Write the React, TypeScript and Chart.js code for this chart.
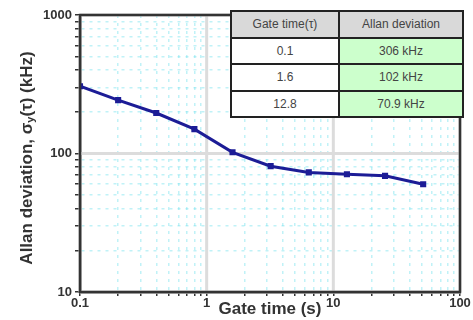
import React, { useEffect, useRef } from "react";
import { Chart, registerables } from "chart.js";

Chart.register(...registerables);

const gateTimes = [0.1, 0.2, 0.4, 0.8, 1.6, 3.2, 6.4, 12.8, 25.6, 51.2];
const allanDev = [306, 243, 196, 150, 102, 81, 73, 70.9, 69, 60];

const xDecades = [0.1, 1, 10, 100];
const yDecades = [10, 100, 1000];

const tableHeader = ["Gate time(τ)", "Allan deviation"];
const tableGate = ["0.1", "1.6", "12.8"];
const tableDev = ["306 kHz", "102 kHz", "70.9 kHz"];

function logTicks(min: number, max: number) {
  const out: number[] = [];
  for (let d = min; d < max * 0.999; d *= 10) {
    for (let k = 1; k <= 9; k++) out.push(+(d * k).toPrecision(6));
  }
  out.push(max);
  return out;
}

const isDecade = (v: number, list: number[]) => list.some((d) => Math.abs(d - v) / d < 1e-6);

const majorGridPlugin = {
  id: "majorGrid",
  beforeDatasetsDraw(chart: any) {
    const { ctx, chartArea: a, scales } = chart;
    ctx.save();
    ctx.strokeStyle = "#dcdcdc";
    ctx.lineWidth = 3;
    for (const v of xDecades) {
      const px = scales.x.getPixelForValue(v);
      ctx.beginPath();
      ctx.moveTo(px, a.top);
      ctx.lineTo(px, a.bottom);
      ctx.stroke();
    }
    for (const v of yDecades) {
      const py = scales.y.getPixelForValue(v);
      ctx.beginPath();
      ctx.moveTo(a.left, py);
      ctx.lineTo(a.right, py);
      ctx.stroke();
    }
    ctx.restore();
  },
};

const framePlugin = {
  id: "frame",
  afterDraw(chart: any) {
    const { ctx, chartArea: a } = chart;
    ctx.save();
    ctx.strokeStyle = "#333";
    ctx.lineWidth = 2.5;
    ctx.strokeRect(a.left, a.top, a.right - a.left, a.bottom - a.top);
    // y-axis title with subscript
    ctx.translate(27, 158);
    ctx.rotate(-Math.PI / 2);
    ctx.fillStyle = "#333";
    ctx.textBaseline = "middle";
    const big = "bold 17px 'Liberation Sans', Arial, sans-serif";
    const small = "bold 11px 'Liberation Sans', Arial, sans-serif";
    const parts: [string, string, number][] = [
      ["Allan deviation, σ", big, 0],
      ["y", small, 4],
      ["(τ) (kHz)", big, 0],
    ];
    let total = 0;
    for (const [t, f] of parts) {
      ctx.font = f;
      total += ctx.measureText(t).width;
    }
    let x = -total / 2;
    ctx.textAlign = "left";
    for (const [t, f, dy] of parts) {
      ctx.font = f;
      ctx.fillText(t, x, dy);
      x += ctx.measureText(t).width;
    }
    ctx.restore();
  },
};

export default function App() {
  const ref = useRef<HTMLCanvasElement | null>(null);
  useEffect(() => {
    if (!ref.current) return;
    const tickFont = { family: "'Liberation Sans', Arial, sans-serif", size: 13, weight: "bold" as const };
    const minorColor = "rgba(130,230,240,0.5)";
    const chart = new Chart(ref.current, {
      type: "line",
      data: {
        datasets: [
          {
            data: gateTimes.map((t, i) => ({ x: t, y: allanDev[i] })),
            borderColor: "#1c1c96",
            backgroundColor: "#1c1c96",
            borderWidth: 3,
            pointStyle: "rect",
            pointRadius: 2.2,
            tension: 0,
          },
        ],
      },
      plugins: [majorGridPlugin, framePlugin],
      options: {
        responsive: false,
        animation: false,
        layout: { padding: { top: 15, right: 13, left: 0, bottom: 0 } },
        plugins: { legend: { display: false }, tooltip: { enabled: false } },
        scales: {
          x: {
            type: "logarithmic",
            min: 0.1,
            max: 100,
            afterBuildTicks: (s: any) => {
              s.ticks = logTicks(0.1, 100).map((v) => ({ value: v }));
            },
            afterFit: (s: any) => {
              s.height = 28;
            },
            ticks: {
              autoSkip: false,
              maxRotation: 0,
              color: "#333",
              font: tickFont,
              padding: 0,
              callback: (v: any) => (isDecade(Number(v), xDecades) ? String(v) : ""),
            },
            grid: {
              color: (c: any) => (isDecade(c.tick?.value, xDecades) ? "rgba(0,0,0,0)" : minorColor),
              lineWidth: 1.5,
              tickColor: "#333",
              tickLength: 4,
            },
            border: { display: true, color: "#333", width: 2.5, dash: [3, 5] },
            title: {
              display: true,
              text: "Gate time (s)",
              color: "#333",
              font: { family: "'Liberation Sans', Arial, sans-serif", size: 17, weight: "bold" },
              padding: { top: 0, bottom: 0 },
            },
          },
          y: {
            type: "logarithmic",
            min: 10,
            max: 1000,
            afterBuildTicks: (s: any) => {
              s.ticks = logTicks(10, 1000).map((v) => ({ value: v }));
            },
            afterFit: (s: any) => {
              s.width = 80;
            },
            ticks: {
              autoSkip: false,
              color: "#333",
              font: tickFont,
              padding: 3,
              callback: (v: any) => (isDecade(Number(v), yDecades) ? String(v) : ""),
            },
            grid: {
              color: (c: any) => (isDecade(c.tick?.value, yDecades) ? "rgba(0,0,0,0)" : minorColor),
              lineWidth: 1.5,
              tickColor: "#333",
              tickLength: 5,
            },
            border: { display: true, color: "#333", width: 2.5, dash: [3, 5] },
          },
        },
      },
    } as any);
    return () => chart.destroy();
  }, []);

  const cell: React.CSSProperties = {
    border: "2px solid #222",
    textAlign: "center",
    padding: 0,
    height: 24,
    fontFamily: "'Liberation Sans', Arial, sans-serif",
    fontSize: 12,
    color: "#444",
  };

  return (
    <div style={{ position: "absolute", left: 0, top: 0, width: 473, height: 320, background: "#fff" }}>
      <canvas ref={ref} width={473} height={320} style={{ display: "block" }} />
      <table
        style={{
          position: "absolute",
          left: 230,
          top: 10,
          width: 234,
          height: 108,
          borderCollapse: "collapse",
          tableLayout: "fixed",
          background: "#fff",
        }}
      >
        <tbody>
          <tr>
            <td style={{ ...cell, width: 106, background: "#d9d9d9" }}>{tableHeader[0]}</td>
            <td style={{ ...cell, background: "#d9d9d9" }}>{tableHeader[1]}</td>
          </tr>
          {tableGate.map((g, i) => (
            <tr key={g}>
              <td style={{ ...cell, background: "#fff" }}>{g}</td>
              <td style={{ ...cell, background: "#ccffcc" }}>{tableDev[i]}</td>
            </tr>
          ))}
        </tbody>
      </table>
    </div>
  );
}
